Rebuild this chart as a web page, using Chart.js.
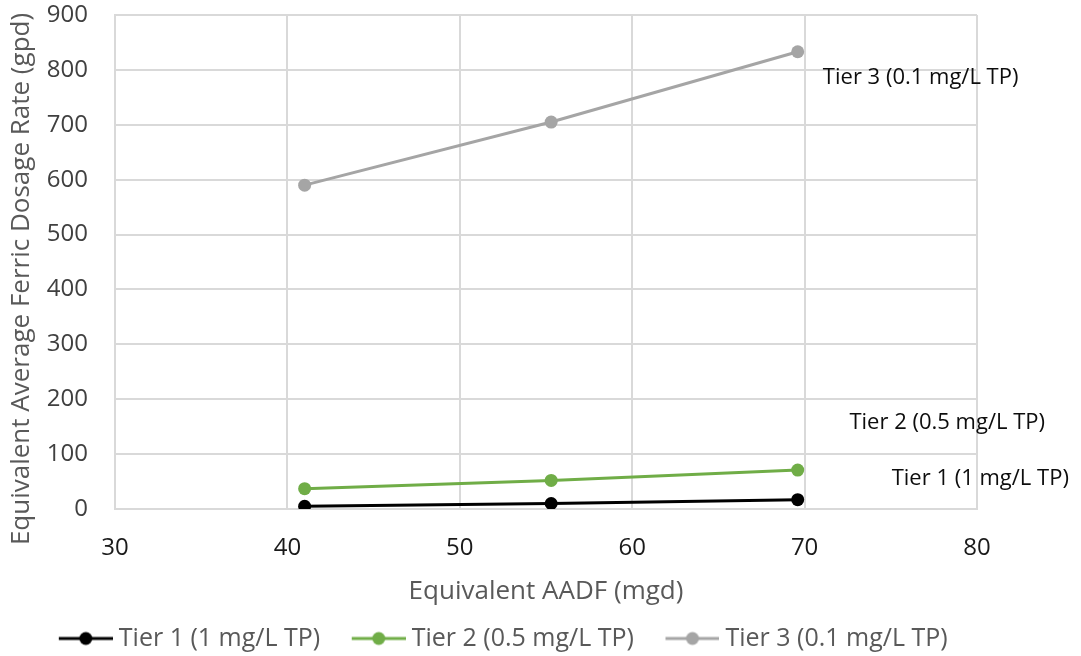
<!DOCTYPE html>
<html>
<head>
<meta charset="utf-8">
<script src="https://cdn.jsdelivr.net/npm/chart.js@4.4.0/dist/chart.umd.min.js"></script>
<style>
  html, body { margin: 0; padding: 0; background: #fff; }
  #wrap { width: 1081px; height: 656px; position: relative; }
</style>
</head>
<body>
<div id="wrap"><canvas id="c" width="1081" height="656"></canvas></div>
<script>
// ---- data ----
const aadf = [41.0, 55.3, 69.6];
const tier1 = [5, 10, 17];
const tier2 = [37, 52, 71];
const tier3 = [590, 705, 833];
const seriesNames = ['Tier 1 (1 mg/L TP)', 'Tier 2 (0.5 mg/L TP)', 'Tier 3 (0.1 mg/L TP)'];
const seriesColors = ['#000000', '#70ad47', '#a5a5a5'];
const xTitle = 'Equivalent AADF (mgd)';
const yTitle = 'Equivalent Average Ferric Dosage Rate (gpd)';
// label anchor positions in data units (left edge, vertical centre)
const labelX = [75.05, 72.6, 71.06];
const labelY = [56, 158, 785];

const FONT = "'Open Sans', sans-serif";

function pts(ys) { return aadf.map((x, i) => ({ x: x, y: ys[i] })); }

// legend icon: transparent lead-in + 54px line with a dot
const LEAD = 36;
function legendIcon(color) {
  const cv = document.createElement('canvas');
  cv.width = LEAD + 54; cv.height = 16;
  const g = cv.getContext('2d');
  g.strokeStyle = color; g.lineWidth = 3;
  g.beginPath(); g.moveTo(LEAD, 8); g.lineTo(LEAD + 54, 8); g.stroke();
  g.fillStyle = color;
  g.beginPath(); g.arc(LEAD + 27, 8, 6.5, 0, Math.PI * 2); g.fill();
  return cv;
}
const icons = seriesColors.map(legendIcon);

const labelPlugin = {
  id: 'seriesLabels',
  afterDatasetsDraw(chart) {
    const ctx = chart.ctx;
    const xs = chart.scales.x, ys = chart.scales.y;
    ctx.save();
    ctx.font = "22px " + FONT;
    ctx.fillStyle = '#0d0d0d';
    ctx.textAlign = 'left';
    ctx.textBaseline = 'middle';
    seriesNames.forEach((n, i) => {
      ctx.fillText(n, xs.getPixelForValue(labelX[i]), ys.getPixelForValue(labelY[i]));
    });
    // vertical axis title
    ctx.font = "26px " + FONT;
    ctx.fillStyle = '#595959';
    ctx.textAlign = 'center';
    ctx.translate(22, 279);
    ctx.rotate(-Math.PI / 2);
    ctx.fillText(yTitle, 0, 0);
    ctx.restore();
  }
};

const datasets = [tier1, tier2, tier3].map((d, i) => ({
  label: seriesNames[i],
  data: pts(d),
  borderColor: seriesColors[i],
  backgroundColor: seriesColors[i],
  borderWidth: 3,
  pointRadius: 6.5,
  pointHoverRadius: 6.5,
  pointBorderWidth: 0,
  showLine: true,
  fill: false,
  tension: 0
}));

new Chart(document.getElementById('c'), {
  type: 'scatter',
  data: { datasets: datasets },
  options: {
    responsive: false,
    animation: false,
    layout: { padding: { left: 0, right: 104, top: 15, bottom: -5 } },
    plugins: {
      tooltip: { enabled: false },
      legend: {
        position: 'bottom',
        labels: {
          usePointStyle: true,
          pointStyleWidth: LEAD + 54 - 13,
          boxHeight: 16,
          padding: 2,
          color: '#595959',
          font: { family: FONT, size: 25 },
          generateLabels(chart) {
            return chart.data.datasets.map((ds, i) => ({
              text: ds.label,
              fillStyle: ds.backgroundColor,
              strokeStyle: ds.borderColor,
              lineWidth: 0,
              pointStyle: icons[i],
              hidden: false,
              datasetIndex: i,
              fontColor: '#595959'
            }));
          }
        }
      }
    },
    scales: {
      x: {
        type: 'linear',
        min: 30, max: 80,
        ticks: { stepSize: 10, padding: 25, color: '#1a1a1a', font: { family: FONT, size: 24 } },
        grid: { color: '#d9d9d9', lineWidth: 2, drawTicks: false },
        border: { color: '#d9d9d9', width: 2 },
        title: { display: true, text: xTitle, color: '#595959', font: { family: FONT, size: 26 }, padding: { top: 4, bottom: 17 } },
        afterFit(s) { s.height = 115; }
      },
      y: {
        min: 0, max: 900,
        ticks: { stepSize: 100, padding: 27, color: '#404040', font: { family: FONT, size: 24 } },
        grid: { color: '#d9d9d9', lineWidth: 2, drawTicks: false },
        border: { color: '#d9d9d9', width: 2 },
        afterFit(s) { s.width = 115; s.paddingTop = 0; s.paddingBottom = 0; }
      }
    }
  },
  plugins: [labelPlugin]
});
</script>
</body>
</html>
